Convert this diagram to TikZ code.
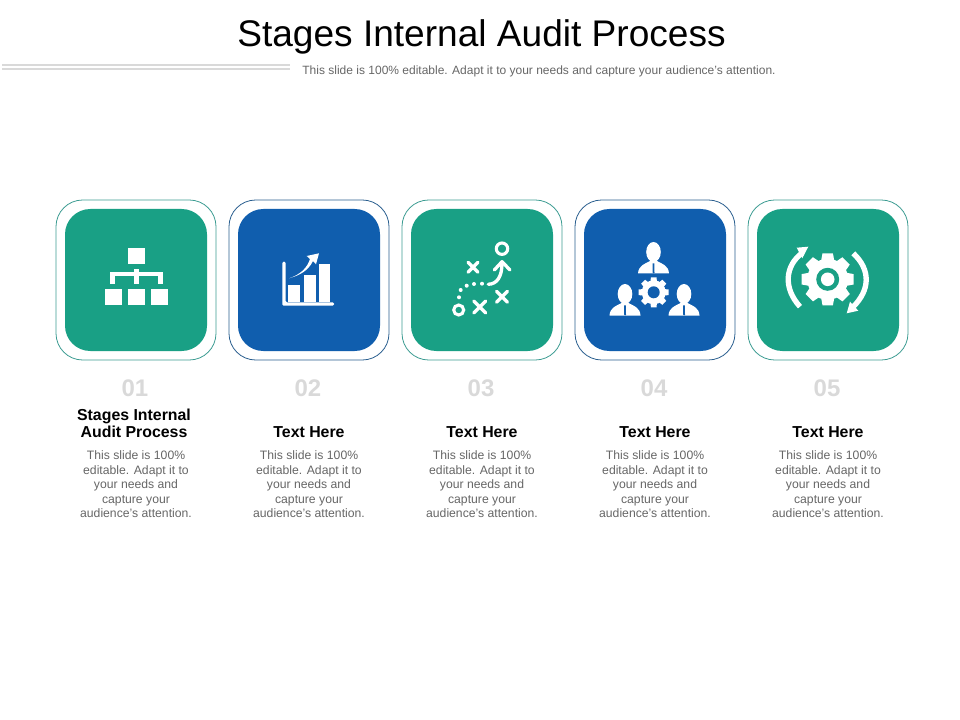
\documentclass[tikz,border=0pt]{standalone}
\usepackage{fontspec}
\setmainfont{Liberation Sans}
\usetikzlibrary{positioning}
\definecolor{tealtile}{HTML}{19A085}
\definecolor{bluetile}{HTML}{105EAE}
\definecolor{tealline}{HTML}{3C9C92}
\definecolor{blueline}{HTML}{2A5F8F}
\definecolor{numgrey}{HTML}{D9D9D9}
\definecolor{bodygrey}{HTML}{666666}

\newcommand{\geartooth}[3]{\fill[white,rotate=#1] (-#3,-#2+7) -- (-#3*0.8,-#2) -- (#3*0.8,-#2) -- (#3,-#2+7) -- cycle;}
\newcommand{\gearteeth}[2]{%
    \geartooth{0}{#1}{#2}\geartooth{45}{#1}{#2}\geartooth{90}{#1}{#2}\geartooth{135}{#1}{#2}%
    \geartooth{180}{#1}{#2}\geartooth{225}{#1}{#2}\geartooth{270}{#1}{#2}\geartooth{315}{#1}{#2}}
\newcommand{\crossmark}[3]{\draw[white,line width=2.5pt,line cap=round] (#1-#3,#2-#3) -- (#1+#3,#2+#3) (#1-#3,#2+#3) -- (#1+#3,#2-#3);}
\newcommand{\personicon}[2]{%
    \begin{scope}[shift={(#1,#2)}]
        \fill[white] (0,-21.5) ellipse [x radius=7.3,y radius=10];
        \fill[white] (-15.5,0) .. controls (-15,-8) and (-9,-9.5) .. (-3.5,-12.5) -- (3.5,-12.5) .. controls (9,-9.5) and (15,-8) .. (15.5,0) -- cycle;
        \fill[bluetile] (-0.8,-10) -- (0.8,-10) -- (1,-1) -- (0,0) -- (-1,-1) -- cycle;
    \end{scope}}

\begin{document}
\begin{tikzpicture}[x=0.75pt,y=-0.75pt,on grid,node distance=129.75pt,
    frame/.style={draw,line width=0.6pt,fill=white,rounded corners=20pt,minimum size=120pt,inner sep=0pt,outer sep=0pt},
    tile/.style={rounded corners=19pt,minimum size=106.5pt,inner sep=0pt,outer sep=0pt},
    numlabel/.style={font=\fontsize{18}{20}\selectfont\bfseries,text=numgrey,inner sep=0pt},
    headlabel/.style={font=\fontsize{11.9}{12.8}\selectfont\bfseries,align=center,anchor=south,inner sep=0pt},
    bodylabel/.style={font=\fontsize{9.15}{10.9}\selectfont,text=bodygrey,align=center,anchor=north,inner sep=0pt},
    rule/.style={draw=numgrey,line width=1.8pt}]
    \useasboundingbox (0,0) rectangle (960,720);

    \node[font=\fontsize{27.8}{30}\selectfont,inner sep=0pt] (title) at (481.5,37) {Stages Internal Audit Process};
    \node[font=\fontsize{9}{11}\selectfont,text=bodygrey,inner sep=0pt] (subtitle) at (539,71) {This slide is 100\% editable. Adapt it to your needs and capture your audience's attention.};
    \coordinate (ruleA) at (2,65.2);
    \coordinate (ruleB) at (290,65.2);
    \coordinate (ruleC) at (2,68.8);
    \coordinate (ruleD) at (290,68.8);
    \draw[rule] (ruleA) -- (ruleB);
    \draw[rule] (ruleC) -- (ruleD);

    % frames and tiles
    \node[frame,draw=tealline] (frame1) at (136,280) {};
    \node[frame,draw=blueline] (frame2) [right=of frame1] {};
    \node[frame,draw=tealline] (frame3) [right=of frame2] {};
    \node[frame,draw=blueline] (frame4) [right=of frame3] {};
    \node[frame,draw=tealline] (frame5) [right=of frame4] {};
    \node[tile,fill=tealtile] (tile1) at (frame1) {};
    \node[tile,fill=bluetile] (tile2) at (frame2) {};
    \node[tile,fill=tealtile] (tile3) at (frame3) {};
    \node[tile,fill=bluetile] (tile4) at (frame4) {};
    \node[tile,fill=tealtile] (tile5) at (frame5) {};

    % numbers
    \node[numlabel] (num1) at (135,388) {01};
    \node[numlabel] (num2) [right=of num1] {02};
    \node[numlabel] (num3) [right=of num2] {03};
    \node[numlabel] (num4) [right=of num3] {04};
    \node[numlabel] (num5) [right=of num4] {05};

    % headings
    \node[headlabel] (head1) at (134,438) {Stages Internal\\Audit Process};
    \node[headlabel] (head2) at (309,438) {Text Here};
    \node[headlabel] (head3) at (482,438) {Text Here};
    \node[headlabel] (head4) at (655,438) {Text Here};
    \node[headlabel] (head5) at (828,438) {Text Here};

    % body texts
    \node[bodylabel] (body1) at (136,450.5) {This slide is 100\%\\editable. Adapt it to\\your needs and\\capture your\\audience's attention.};
    \node[bodylabel] (body2) at (309,450.5) {This slide is 100\%\\editable. Adapt it to\\your needs and\\capture your\\audience's attention.};
    \node[bodylabel] (body3) at (482,450.5) {This slide is 100\%\\editable. Adapt it to\\your needs and\\capture your\\audience's attention.};
    \node[bodylabel] (body4) at (655,450.5) {This slide is 100\%\\editable. Adapt it to\\your needs and\\capture your\\audience's attention.};
    \node[bodylabel] (body5) at (828,450.5) {This slide is 100\%\\editable. Adapt it to\\your needs and\\capture your\\audience's attention.};

    % org chart
    \begin{scope}[shift={(tile1.center)}]
        \fill[white] (-8,-31.7) rectangle (8.7,-15.7);
        \fill[white] (-31,9) rectangle (-14.3,25);
        \fill[white] (-8,9) rectangle (8.7,25);
        \fill[white] (15.3,9) rectangle (32,25);
        \fill[white] (-25.7,-7.7) rectangle (26.7,-4);
        \fill[white] (-25.7,-7.7) rectangle (-20.7,3.7);
        \fill[white] (21.7,-7.7) rectangle (26.7,3.7);
        \fill[white] (-2,-10.5) rectangle (3,3.7);
    \end{scope}

    % bar chart
    \begin{scope}[shift={(tile2.center)}]
        \fill[white,rounded corners=1pt] (-26.7,-18.3) -- (-23.3,-18.3) -- (-23.3,22.3) -- (25,22.3) -- (25,25.7) -- (-26.7,25.7) -- cycle;
        \fill[white] (-21,5) rectangle (-9,22.3);
        \fill[white] (-5,-5) rectangle (6.7,22.3);
        \fill[white] (9.7,-16) rectangle (21,22.3);
        \fill[white] (-19.7,-1.7) .. controls (-8,-6) and (-2,-12) .. (1,-21) -- (-2.3,-24) -- (10,-26.7) -- (7,-15.7) -- (4,-19) .. controls (-1,-9) and (-9,-5) .. cycle;
    \end{scope}

    % play sketch
    \begin{scope}[shift={(tile3.center)}]
        \draw[white,line width=2.3pt] (20,-31.3) circle [radius=5.7];
        \draw[white,line width=2.3pt] (-23.3,30) circle [radius=5];
        \crossmark{-9}{-12.7}{5}
        \crossmark{-2.3}{27}{6}
        \crossmark{20}{16.7}{5.5}
        \draw[white,line width=2.5pt,line cap=round] (6.3,4.3) .. controls (15,4) and (20,-3) .. (20,-17);
        \draw[white,line width=2.5pt,line cap=round,line join=round] (12.3,-10) -- (20,-18.3) -- (28,-10);
        \fill[white] (-23,17.3) circle [radius=2];
        \fill[white] (-21.3,10) circle [radius=2];
        \fill[white] (-15.3,5.7) circle [radius=2];
        \fill[white] (-8,4) circle [radius=2];
        \fill[white] (0,3.7) circle [radius=2];
    \end{scope}

    % team
    \begin{scope}[shift={(tile4.center)}]
        \personicon{-1.5}{-6.5}
        \personicon{-30}{35.5}
        \personicon{29}{35.5}
        \begin{scope}[shift={(-1.3,12.3)}]
            \fill[white] (0,0) circle [radius=12];
            \gearteeth{15}{3.5}
            \fill[bluetile] (0,0) circle [radius=6];
        \end{scope}
    \end{scope}

    % gear with arrows
    \begin{scope}[shift={(tile5.center)}]
        \begin{scope}[shift={(-0.3,-0.7)}]
            \fill[white] (0,0) circle [radius=20.5];
            \gearteeth{26}{6.5}
            \fill[tealtile] (0,0) circle [radius=11.5];
            \fill[white] (0,0) circle [radius=6.8];
        \end{scope}
        \draw[white,line width=4pt] (-28,26.7) .. controls (-45,8) and (-43,-14) .. (-26,-27);
        \fill[white] (-19.7,-33.3) -- (-31.3,-32.3) -- (-25.7,-21.7) -- cycle;
        \draw[white,line width=4pt] (25.3,-26.7) .. controls (43,-10) and (42,10) .. (25.3,26.7);
        \fill[white] (18.7,33.3) -- (30.3,30.7) -- (22,21.7) -- cycle;
    \end{scope}
\end{tikzpicture}
\end{document}
